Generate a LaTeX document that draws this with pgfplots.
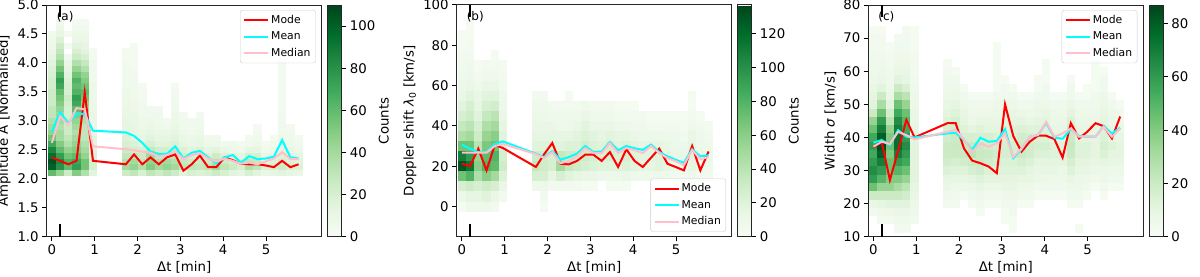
\documentclass[border=0pt]{standalone}
\usepackage{fontspec}
\setmainfont{DejaVu Sans}
\usepackage{pgfplots}
\usepackage{pgfplotstable}
\pgfplotsset{compat=1.18}
\definecolor{mplpink}{HTML}{FFC0CB}
\definecolor{mplred}{HTML}{FF0000}
\definecolor{mplcyan}{HTML}{00FFFF}
\newcommand{\tf}{\fontsize{13.3pt}{16pt}\selectfont}
\newcommand{\lf}{\fontsize{10.8pt}{13pt}\selectfont}
\pgfdeclareplotmark{cellA}{\pgfpathrectangle{\pgfpoint{-4.2pt}{-3.0pt}}{\pgfpoint{8.4pt}{6.0pt}}\pgfusepathqfill}
\pgfdeclareplotmark{cellB}{\pgfpathrectangle{\pgfpoint{-4.2pt}{-5.15pt}}{\pgfpoint{8.4pt}{10.3pt}}\pgfusepathqfill}
\pgfdeclareplotmark{cellC}{\pgfpathrectangle{\pgfpoint{-4.2pt}{-4.25pt}}{\pgfpoint{8.4pt}{8.5pt}}\pgfusepathqfill}

\pgfplotstableread{
x a21 a22 a23 a24 a25 a26 a27 a28 a29 a30 a31 a32 a33 a34 a35 a36 a37 a38 a39 a40 a41 a42 a43 a44 a45 a46 a47
0     60 100 105 95 85 70 55 45 40 35 30 30 25 25 25 22 22 20 18 15 12 10 8 6 4 0 0
0.192 45 80 85 75 60 50 40 40 35 40 40 45 50 55 60 70 75 65 55 45 35 30 25 18 12 8 5
0.384 25 60 65 55 45 35 30 25 25 25 20 20 22 25 20 20 18 15 12 10 5 0 3 0 3 0 0
0.576 50 75 70 60 50 45 40 35 40 45 50 60 70 75 65 60 65 55 45 35 25 20 15 10 8 5 3
0.768 35 55 55 45 40 35 30 30 30 35 35 40 45 55 60 55 50 45 35 28 20 15 12 10 8 5 3
0.96  14 20 20 18 16 14 14 12 10 10 10 9 8 8 7 7 6 5 5 5 4 3 0 0 0 0 0
1.728 25 40 35 30 25 20 18 15 12 12 10 10 8 8 8 6 6 5 5 4 3 3 0 0 0 0 0
1.92  30 45 40 30 22 18 15 12 12 10 10 8 8 6 6 5 5 4 4 3 3 3 2 0 0 0 0
2.112 20 35 30 25 20 15 12 10 8 8 6 6 5 4 4 3 0 0 0 0 0 0 0 0 0 0 0
2.304 30 50 45 40 28 20 15 12 10 8 6 5 0 0 0 0 0 0 0 0 0 0 0 0 0 0 0
2.496 25 40 35 28 22 15 12 10 8 6 5 4 0 0 0 0 0 0 0 0 0 0 0 0 0 0 0
2.688 30 45 40 30 22 16 12 10 6 4 0 0 0 0 0 0 0 0 0 0 0 0 0 0 0 0 0
2.88  25 40 35 30 25 18 15 12 10 8 8 6 5 4 4 3 0 0 0 0 0 0 0 0 0 0 0
3.072 15 30 28 22 18 12 10 8 6 5 4 0 0 0 0 0 0 0 0 0 0 0 0 0 0 0 0
3.264 20 30 25 20 15 10 8 6 5 4 0 0 0 0 0 0 0 0 0 0 0 0 0 0 0 0 0
3.456 18 28 25 20 18 12 10 8 6 5 4 0 0 0 0 0 0 0 0 0 0 0 0 0 0 0 0
3.648 20 30 25 18 12 8 6 0 0 0 0 0 0 0 0 0 0 0 0 0 0 0 0 0 0 0 0
3.84  25 40 35 25 15 8 5 0 0 0 0 0 0 0 0 0 0 0 0 0 0 0 0 0 0 0 0
4.032 20 30 25 18 10 6 0 0 0 0 0 0 0 0 0 0 0 0 0 0 0 0 0 0 0 0 0
4.224 15 25 20 15 8 5 0 0 0 0 0 0 0 0 0 0 0 0 0 0 0 0 0 0 0 0 0
4.416 12 20 18 12 6 3 0 0 0 0 0 0 0 0 0 0 0 0 0 0 0 0 0 0 0 0 0
4.608 20 35 30 20 12 6 4 0 0 0 0 0 0 0 0 0 0 0 0 0 0 0 0 0 0 0 0
4.8   15 30 28 20 12 8 5 4 3 0 0 0 0 0 0 0 0 0 0 0 0 0 0 0 0 0 0
4.992 10 18 15 10 6 3 0 0 0 0 0 0 0 0 0 0 0 0 0 0 0 0 0 0 0 0 0
5.184 12 20 18 12 8 5 3 0 0 0 0 0 0 0 0 0 0 0 0 0 0 0 0 0 0 0 0
5.376 15 25 22 18 12 10 8 6 5 5 4 4 3 3 3 3 3 3 3 3 3 0 0 0 0 0 0
5.568 12 20 18 15 10 8 6 5 4 0 0 0 0 0 0 0 0 0 0 0 0 0 0 0 0 0 0
5.76  10 18 15 12 8 5 3 0 0 0 0 0 0 0 0 0 0 0 0 0 0 0 0 0 0 0 0
}\histA

\pgfplotstableread{
x b0 b5 b10 b15 b20 b25 b30 b35 b40 b45 b50 b55 b60 b65 b70 b75 b80 b85 b90
0     3 10 25 70 130 110 70 45 35 25 18 12 10 8 6 5 3 2 0
0.192 8 15 30 80 115 95 70 50 40 30 25 18 12 10 8 6 4 3 2
0.384 8 15 25 45 60 55 40 30 25 20 15 12 8 5 3 0 0 0 0
0.576 8 20 30 60 80 75 65 55 45 35 25 18 12 8 5 0 0 0 0
0.768 5 12 25 50 75 80 70 60 50 40 28 20 12 8 5 3 0 0 0
0.96  0 5 12 22 30 26 22 18 15 12 10 8 6 5 4 0 0 0 0
1.728 0 0 8 25 35 30 20 15 12 10 8 6 0 0 0 0 0 0 0
1.92  3 5 10 25 30 28 20 15 12 10 8 5 0 0 0 0 0 0 0
2.112 0 0 5 15 25 25 20 15 12 8 5 0 0 0 0 0 0 0 0
2.304 0 0 5 25 50 35 20 15 10 8 5 0 0 0 0 0 0 0 0
2.496 0 0 5 20 35 30 22 15 10 8 5 3 0 0 0 0 0 0 0
2.688 0 0 5 15 30 30 22 18 12 8 6 0 0 0 0 0 0 0 0
2.88  0 0 3 12 25 30 28 22 18 12 8 0 0 0 0 0 0 0 0
3.072 0 0 3 12 22 25 22 18 12 8 5 0 0 0 0 0 0 0 0
3.264 0 0 0 10 20 22 20 15 12 8 5 0 0 0 0 0 0 0 0
3.456 0 0 3 10 20 25 25 18 12 8 5 0 0 0 0 0 0 0 0
3.648 0 0 3 10 18 22 20 15 10 6 3 0 0 0 0 0 0 0 0
3.84  0 0 3 12 22 25 22 15 10 6 3 0 0 0 0 0 0 0 0
4.032 0 0 0 10 18 20 18 12 8 5 3 0 0 0 0 0 0 0 0
4.224 0 0 0 8 15 18 15 10 8 5 0 0 0 0 0 0 0 0 0
4.416 0 0 0 8 15 18 15 10 6 3 0 0 0 0 0 0 0 0 0
4.608 0 0 0 10 18 20 15 10 6 3 0 0 0 0 0 0 0 0 0
4.8   0 0 0 8 15 15 12 8 5 3 0 0 0 0 0 0 0 0 0
4.992 0 0 0 6 10 12 10 8 5 3 0 0 0 0 0 0 0 0 0
5.184 0 0 0 5 10 12 10 6 4 3 0 0 0 0 0 0 0 0 0
5.376 0 0 3 8 15 18 15 12 8 5 3 3 0 0 0 0 0 0 0
5.568 0 0 0 5 10 12 10 8 5 3 0 0 0 0 0 0 0 0 0
5.76  0 0 0 5 8 10 8 6 4 0 0 0 0 0 0 0 0 0 0
}\histB

\pgfplotstableread{
x c125 c150 c175 c200 c225 c250 c275 c300 c325 c350 c375 c400 c425 c450 c475 c500 c525 c550 c575 c600 c625 c650 c675 c700 c725 c750
0     0 0 3 8 20 45 60 65 60 55 60 55 45 35 20 12 10 8 6 5 5 4 3 3 2 0
0.192 0 3 5 10 20 35 50 60 70 80 85 80 70 60 45 30 20 12 8 6 5 4 3 3 2 0
0.384 0 3 6 12 20 35 40 45 45 40 45 40 35 25 18 12 8 6 5 4 3 3 2 0 0 0
0.576 3 5 8 12 20 30 40 50 60 70 75 75 70 65 55 45 30 20 12 8 6 5 4 3 0 0
0.768 3 5 8 12 18 25 35 45 55 60 65 60 55 50 45 35 25 15 10 8 6 5 4 3 3 0
0.96  0 3 5 6 8 10 12 12 12 12 12 10 10 8 8 6 6 5 4 3 3 3 2 2 2 0
1.728 0 0 0 3 5 8 10 14 18 20 20 18 16 13 11 9 6 5 4 3 2 0 0 0 0 0
1.92  0 0 0 3 4 6 9 13 16 20 21 20 18 16 13 11 7 6 4 2 0 0 0 0 0 0
2.112 0 0 0 0 2 6 9 13 18 21 20 16 13 11 9 6 4 2 0 0 0 0 0 0 0 0
2.304 0 0 0 2 4 7 11 16 20 25 21 16 11 7 6 4 2 0 0 0 0 0 0 0 0 0
2.496 0 0 2 4 6 9 13 18 20 21 20 16 13 9 6 4 2 0 0 0 0 0 0 0 0 0
2.688 0 0 0 2 4 7 11 14 18 20 18 16 11 9 6 4 2 0 0 0 0 0 0 0 0 0
2.88  0 0 0 2 4 7 11 13 16 18 16 14 11 9 7 6 4 2 2 2 2 2 2 0 0 0
3.072 0 2 2 4 6 9 11 13 14 16 16 14 13 11 9 7 4 4 2 0 0 0 0 0 0 0
3.264 2 2 4 4 6 9 11 13 14 16 16 14 13 11 9 6 4 2 0 0 0 0 0 0 0 0
3.456 0 0 0 2 4 6 9 13 16 20 20 18 14 11 7 4 2 0 0 0 0 0 0 0 0 0
3.648 0 0 0 2 4 6 9 11 14 18 18 16 13 9 6 4 2 0 0 0 0 0 0 0 0 0
3.84  0 0 0 0 2 4 7 9 11 14 16 14 13 11 7 6 4 2 2 0 0 0 0 0 0 0
4.032 0 0 0 0 2 4 6 9 11 14 16 14 13 11 9 6 4 4 2 2 2 0 0 0 0 0
4.224 0 0 0 0 2 4 6 9 11 13 13 11 9 7 6 4 2 0 0 0 0 0 0 0 0 0
4.416 0 0 0 0 2 4 6 7 11 13 13 11 9 7 6 4 2 0 0 0 0 0 0 0 0 0
4.608 0 0 0 2 4 6 9 13 16 20 22 20 18 14 11 7 4 4 2 0 0 0 0 0 0 0
4.8   2 0 0 2 4 6 7 9 11 13 13 11 9 7 6 4 2 0 0 0 0 0 0 0 0 0
4.992 0 0 0 0 2 4 6 9 11 13 13 11 9 7 6 4 2 2 0 0 0 0 0 0 0 0
5.184 0 0 0 0 0 2 4 7 9 11 11 10 9 7 6 4 4 2 2 2 2 0 0 0 0 0
5.376 0 0 0 0 2 4 6 7 11 14 16 14 13 11 9 7 6 4 4 2 0 0 0 0 0 0
5.568 0 0 0 0 0 2 4 6 9 11 13 11 9 7 6 4 2 0 0 0 0 0 0 0 0 0
5.76  0 0 0 0 0 2 4 6 9 11 11 9 7 6 4 2 0 0 0 0 0 0 0 0 0 0
}\histC

\pgfplotstableread{
x mode mean median
0 2.37 2.81 2.62
0.192 2.31 3.15 3.08
0.384 2.25 2.96 2.93
0.576 2.31 3.12 3.22
0.768 3.49 3.12 3.20
0.96 2.31 2.83 2.56
1.728 2.25 2.80 2.51
1.92 2.42 2.74 2.49
2.112 2.25 2.62 2.47
2.304 2.37 2.47 2.45
2.496 2.25 2.43 2.39
2.688 2.37 2.43 2.41
2.88 2.42 2.56 2.47
3.072 2.14 2.35 2.34
3.264 2.25 2.45 2.41
3.456 2.40 2.48 2.44
3.648 2.20 2.37 2.35
3.84 2.20 2.27 2.30
4.032 2.37 2.37 2.35
4.224 2.32 2.41 2.31
4.416 2.26 2.28 2.26
4.608 2.25 2.39 2.28
4.8 2.25 2.34 2.25
4.992 2.23 2.35 2.30
5.184 2.20 2.38 2.35
5.376 2.31 2.67 2.46
5.568 2.20 2.37 2.34
5.76 2.25 2.35 2.34
}\lineA

\pgfplotstableread{
x mode mean median
0 21.2 30.7 26.7
0.192 20.1 28.7 26.7
0.384 28.7 27.0 26.7
0.576 17.9 27.0 26.7
0.768 30.5 31.0 30.0
0.96 29.0 32.3 31.0
1.728 19.6 26.2 26.0
1.92 25.9 24.5 24.0
2.112 31.5 27.5 27.0
2.304 21.2 23.2 21.5
2.496 20.9 24.5 22.5
2.688 22.6 26.2 25.0
2.88 25.7 30.0 29.0
3.072 25.7 27.0 26.5
3.264 22.6 27.3 26.5
3.456 27.0 32.0 31.5
3.648 19.6 27.9 26.5
3.84 28.4 30.0 29.0
4.032 22.6 28.9 28.0
4.224 19.6 28.1 26.5
4.416 24.2 30.7 30.0
4.608 28.7 27.0 26.5
4.8 21.2 24.9 24.0
4.992 19.6 23.2 22.5
5.184 17.9 21.7 20.5
5.376 30.0 28.4 28.0
5.568 17.9 24.9 23.5
5.76 27.3 25.4 24.5
}\lineB

\pgfplotstableread{
x mode mean median
0 36.9 38.4 37.2
0.192 38.7 39.2 38.7
0.384 27.1 37.7 38.0
0.576 36.0 42.2 41.7
0.768 45.3 40.2 40.7
0.96 40.0 40.0 39.4
1.728 44.3 41.2 41.7
1.92 44.3 41.4 42.2
2.112 36.7 39.2 39.5
2.304 33.0 36.2 35.6
2.496 32.2 39.9 38.2
2.688 31.2 38.7 37.2
2.88 29.2 38.9 38.2
3.072 50.0 42.5 41.2
3.264 40.4 33.7 34.1
3.456 35.7 36.4 36.6
3.648 38.7 40.2 40.2
3.84 40.5 40.7 40.7
4.032 40.5 44.4 44.7
4.224 39.5 39.9 40.2
4.416 33.9 39.6 41.2
4.608 44.3 42.5 42.7
4.8 39.7 40.4 40.2
4.992 41.7 40.2 40.4
5.184 44.3 40.2 40.2
5.376 43.4 43.4 43.2
5.568 39.7 41.2 40.2
5.76 46.3 42.9 42.7
}\lineC

\pgfplotsset{
  colormap={greens}{rgb255=(247,252,245) rgb255=(229,245,224) rgb255=(199,233,192) rgb255=(161,217,155) rgb255=(116,196,118) rgb255=(65,171,93) rgb255=(35,139,69) rgb255=(0,109,44) rgb255=(0,68,27)},
  hist/.style={scatter, only marks, forget plot, point meta=explicit,
    scatter/use mapped color={fill=mapped color, draw=none}},
  panel/.style={
    clip marker paths=true,
    scale only axis, width=275pt, height=231.7pt,
    xmin=-0.12, xmax=6.3, xtick={0,1,2,3,4,5},
    tick pos=left, tick align=outside, major tick length=4.5pt,
    tick style={black, line width=1pt},
    axis line style={line width=1pt, black!85},
    tick label style={font=\tf},
    label style={font=\tf},
    /pgf/number format/assume math mode=true,
    xlabel={Δt [min]},
    colormap name=greens,
    point meta min=0,
    colorbar,
    colorbar style={
      scale only axis, width=14pt, height=231.7pt,
      at={(parent axis.north east)}, anchor=north west, xshift=-2.4pt,
      ytick pos=right, yticklabel pos=right, tick align=outside, major tick length=4.5pt,
      tick style={black, line width=1pt},
      axis line style={line width=1pt, black!85},
      tick label style={font=\tf},
      /pgf/number format/assume math mode=true,
      ylabel={Counts},
      ylabel style={font=\tf, at={([xshift=42pt]rel axis cs:1,0.5)}, anchor=center},
    },
    legend cell align=left,
    legend image code/.code={\draw[##1] (0pt,0pt) -- (24pt,0pt);},
    legend style={font=\lf, draw=black!20, rounded corners=2.5pt, fill=white,
      fill opacity=0.8, text opacity=1, inner xsep=3pt, inner ysep=3pt, row sep=3pt},
  },
}

\begin{document}
\begin{tikzpicture}
\path[use as bounding box] (0,0) rectangle (1200pt,276pt);
% ---------- (a)
\begin{axis}[panel, at={(46.7pt,39.3pt)}, anchor=south west,
  ymin=1, ymax=5, ytick={1,1.5,2,2.5,3,3.5,4,4.5,5},
  yticklabel style={/pgf/number format/fixed, /pgf/number format/fixed zerofill, /pgf/number format/precision=1},
  ylabel={Amplitude A [Normalised]},
  point meta max=110,
  colorbar style={ytick={0,20,40,60,80,100}},
  legend style={at={(1,1)}, anchor=north east, xshift=-6pt, yshift=-5pt}]
\pgfplotsinvokeforeach{21,...,47}{
  \addplot[hist, mark=cellA, restrict expr to domain={\thisrow{a#1}}{0.5:100000}] table[x=x, y expr=#1/10, meta=a#1]{\histA};
}
\addplot[black, line width=2pt, forget plot] coordinates {(0.192,1) (0.192,1.22)};
\addplot[black, line width=2pt, forget plot] coordinates {(0.192,4.8) (0.192,5)};
\addplot[mplred, line width=2pt] table[x=x, y=mode]{\lineA}; \addlegendentry{Mode}
\addplot[mplcyan, line width=2pt] table[x=x, y=mean]{\lineA}; \addlegendentry{Mean}
\addplot[mplpink, line width=2pt] table[x=x, y=median]{\lineA}; \addlegendentry{Median}
\node[anchor=north west, inner sep=0pt, font=\fontsize{12pt}{14pt}\selectfont] at (rel axis cs:0.036,0.975) {(a)};
\end{axis}
% ---------- (b)
\begin{axis}[panel, at={(456.7pt,39.3pt)}, anchor=south west,
  ymin=-15, ymax=100, ytick={0,20,40,60,80,100},
  ylabel={Doppler shift \textit{λ}\textsubscript{0} [km/s]},
  point meta max=137,
  colorbar style={ytick={0,20,40,60,80,100,120}},
  legend style={at={(1,0)}, anchor=south east, xshift=-5.6pt, yshift=5pt}]
\pgfplotsinvokeforeach{0,5,...,90}{
  \addplot[hist, mark=cellB, restrict expr to domain={\thisrow{b#1}}{0.5:100000}] table[x=x, y expr=#1, meta=b#1]{\histB};
}
\addplot[black, line width=2pt, forget plot] coordinates {(0.192,-15) (0.192,-8.7)};
\addplot[black, line width=2pt, forget plot] coordinates {(0.192,94) (0.192,100)};
\addplot[mplred, line width=2pt] table[x=x, y=mode]{\lineB}; \addlegendentry{Mode}
\addplot[mplcyan, line width=2pt] table[x=x, y=mean]{\lineB}; \addlegendentry{Mean}
\addplot[mplpink, line width=2pt] table[x=x, y=median]{\lineB}; \addlegendentry{Median}
\node[anchor=north west, inner sep=0pt, font=\fontsize{12pt}{14pt}\selectfont] at (rel axis cs:0.036,0.975) {(b)};
\end{axis}
% ---------- (c)
\begin{axis}[panel, at={(868.3pt,39.3pt)}, anchor=south west,
  ymin=10, ymax=80, ytick={10,20,30,40,50,60,70,80},
  ylabel={Width \textit{σ} [km/s]},
  point meta max=87,
  colorbar style={ytick={0,20,40,60,80}},
  legend style={at={(1,1)}, anchor=north east, xshift=-6pt, yshift=-5pt}]
\pgfplotsinvokeforeach{125,150,...,750}{
  \addplot[hist, mark=cellC, restrict expr to domain={\thisrow{c#1}}{0.5:100000}] table[x=x, y expr=#1/10, meta=c#1]{\histC};
}
\addplot[black, line width=2pt, forget plot] coordinates {(0.192,10) (0.192,13.8)};
\addplot[black, line width=2pt, forget plot] coordinates {(0.192,76.5) (0.192,80)};
\addplot[mplred, line width=2pt] table[x=x, y=mode]{\lineC}; \addlegendentry{Mode}
\addplot[mplcyan, line width=2pt] table[x=x, y=mean]{\lineC}; \addlegendentry{Mean}
\addplot[mplpink, line width=2pt] table[x=x, y=median]{\lineC}; \addlegendentry{Median}
\node[anchor=north west, inner sep=0pt, font=\fontsize{12pt}{14pt}\selectfont] at (rel axis cs:0.036,0.975) {(c)};
\end{axis}
\end{tikzpicture}
\end{document}
